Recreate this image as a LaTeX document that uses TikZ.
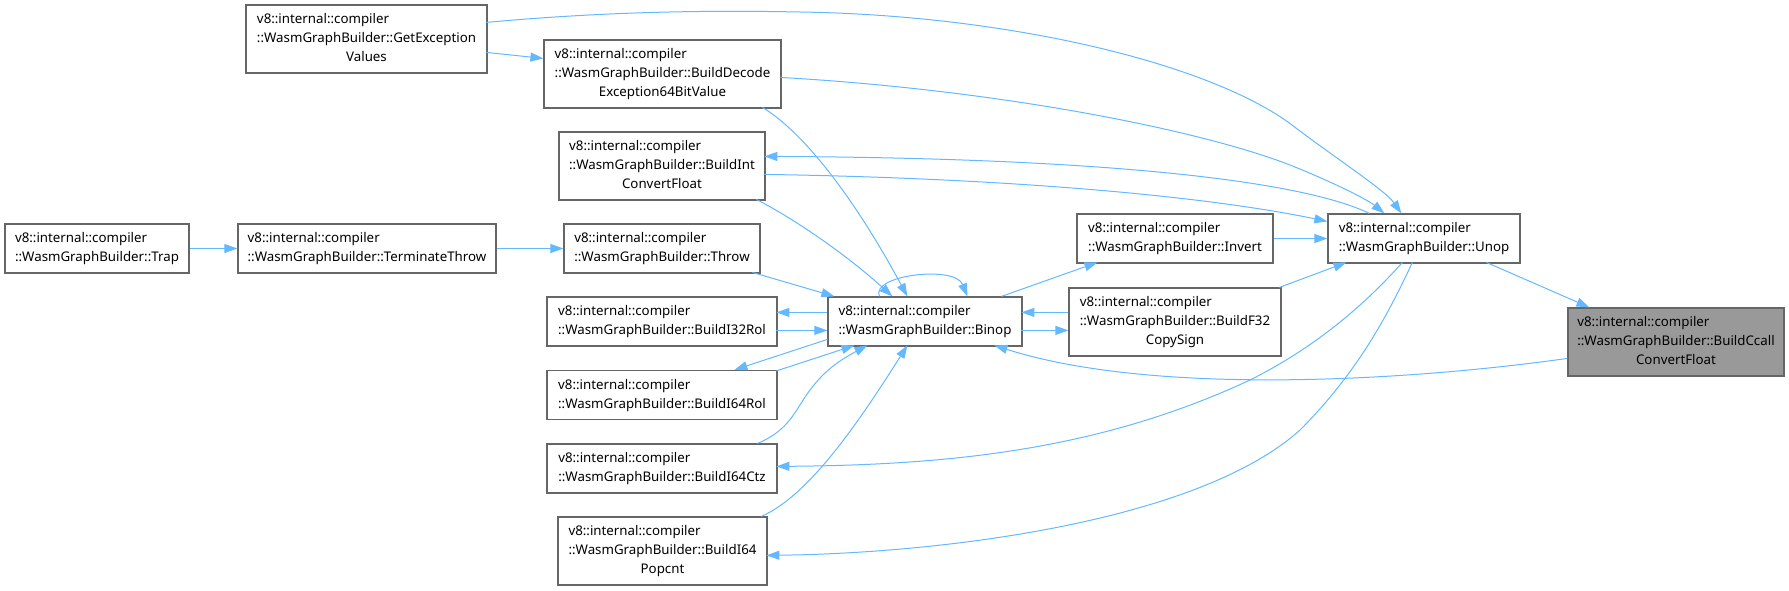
\documentclass[tikz,border=0pt]{standalone}
\usepackage{fontspec}
\setmainfont{Noto Sans}
\usetikzlibrary{arrows.meta,calc}
\definecolor{edgeblue}{HTML}{63B8FF}
\definecolor{boxborder}{HTML}{666666}
\definecolor{rootfill}{HTML}{999999}
\newcommand\twol[2]{\begin{tabular}{@{}l@{}}#1\\#2\end{tabular}}
\newcommand\threel[3]{\begin{tabular}{@{}l@{}}#1\\#2\\\multicolumn{1}{@{}c@{}}{#3}\end{tabular}}
\begin{document}
\begin{tikzpicture}[x=1pt,y=-1pt,
  box/.style={draw=boxborder, line width=1.2pt, fill=white, inner sep=0pt,
    font=\fontsize{13.3}{19}\selectfont},
  rootbox/.style={box, fill=rootfill},
  link/.style={edgeblue, line width=1pt, -{Triangle[length=13pt,width=9pt]}}]
\useasboundingbox (0,0) rectangle (1789,590);

% nodes
\node[box, minimum width=241pt, minimum height=68pt] (getex) at (366.5,39)
  {\threel{v8::internal::compiler}{::WasmGraphBuilder::GetException}{Values}};
\node[box, minimum width=237pt, minimum height=68pt] (decode) at (662.5,74)
  {\threel{v8::internal::compiler}{::WasmGraphBuilder::BuildDecode}{Exception64BitValue}};
\node[box, minimum width=206pt, minimum height=68pt] (bint) at (662,166)
  {\threel{v8::internal::compiler}{::WasmGraphBuilder::BuildInt}{ConvertFloat}};
\node[box, minimum width=184pt, minimum height=49pt] (trap) at (97,248.5)
  {\twol{v8::internal::compiler}{::WasmGraphBuilder::Trap}};
\node[box, minimum width=258pt, minimum height=49pt] (term) at (367,248.5)
  {\twol{v8::internal::compiler}{::WasmGraphBuilder::TerminateThrow}};
\node[box, minimum width=196pt, minimum height=49pt] (throw) at (662,248.5)
  {\twol{v8::internal::compiler}{::WasmGraphBuilder::Throw}};
\node[box, minimum width=230pt, minimum height=49pt] (i32rol) at (662,321.5)
  {\twol{v8::internal::compiler}{::WasmGraphBuilder::BuildI32Rol}};
\node[box, minimum width=230pt, minimum height=49pt] (i64rol) at (662,395)
  {\twol{v8::internal::compiler}{::WasmGraphBuilder::BuildI64Rol}};
\node[box, minimum width=230pt, minimum height=49pt] (ctz) at (662,468.5)
  {\twol{v8::internal::compiler}{::WasmGraphBuilder::BuildI64Ctz}};
\node[box, minimum width=209pt, minimum height=68pt] (popcnt) at (662.5,551)
  {\threel{v8::internal::compiler}{::WasmGraphBuilder::BuildI64}{Popcnt}};
\node[box, minimum width=194pt, minimum height=49pt] (binop) at (925,321.5)
  {\twol{v8::internal::compiler}{::WasmGraphBuilder::Binop}};
\node[box, minimum width=196pt, minimum height=49pt] (invert) at (1175,238.5)
  {\twol{v8::internal::compiler}{::WasmGraphBuilder::Invert}};
\node[box, minimum width=212pt, minimum height=68pt] (copysign) at (1175,322)
  {\threel{v8::internal::compiler}{::WasmGraphBuilder::BuildF32}{CopySign}};
\node[box, minimum width=192pt, minimum height=49pt] (unop) at (1424,238.5)
  {\twol{v8::internal::compiler}{::WasmGraphBuilder::Unop}};
\node[rootbox, minimum width=216pt, minimum height=68pt] (ccall) at (1676,342)
  {\threel{v8::internal::compiler}{::WasmGraphBuilder::BuildCcall}{ConvertFloat}};

% connectors
\draw[link] ($(getex.north west)+(241,18)$) .. controls (600,12) and (700,10) .. (800,12)
  .. controls (1000,15) and (1200,60) .. (1288,122)
  .. controls (1335,158) and (1385,190) .. ($(unop.north west)+(74,0)$);
\draw[link] ($(getex.north west)+(241,48)$) -- ($(decode.north west)+(0,19)$);
\draw[link] ($(decode.north west)+(237,38)$) .. controls (1000,90) and (1200,130) .. (1290,165)
  .. controls (1335,183) and (1368,200) .. ($(unop.north west)+(57,0)$);
\draw[link] ($(unop.north west)+(42,0)$) .. controls (1300,180) and (1100,158) .. ($(bint.north west)+(206,25)$);
\draw[link] ($(bint.north west)+(206,43)$) .. controls (1000,178) and (1200,195) .. ($(unop.north west)+(0,8)$);
\draw[link] ($(decode.north west)+(219,68)$) .. controls (800,130) and (850,190) .. ($(binop.north west)+(80,0)$);
\draw[link] ($(bint.north west)+(198,68)$) .. controls (800,222) and (850,258) .. ($(binop.north west)+(65,0)$);
\draw[link] ($(throw.north west)+(189,49)$) -- ($(binop.north west)+(7,0)$);
\draw[link] ($(binop.north west)+(52,0)$) .. controls (870,275) and (955,265) .. ($(binop.north west)+(140,0)$);
\draw[link] ($(binop.north west)+(174,0)$) -- ($(invert.north west)+(21,49)$);
\draw[link] (invert.east) -- (unop.west);
\draw[link] ($(copysign.north west)+(211,0)$) -- ($(unop.north west)+(19,49)$);
\draw[link] ($(copysign.north west)+(0,25)$) -- ($(binop.north west)+(194,16)$);
\draw[link] ($(binop.north west)+(194,34)$) -- ($(copysign.north west)+(0,43)$);
\draw[link] ($(binop.north west)+(0,16)$) -- ($(i32rol.north west)+(230,16)$);
\draw[link] ($(i32rol.north west)+(230,34)$) -- ($(binop.north west)+(0,34)$);
\draw[link] ($(binop.north west)+(0,43)$) -- ($(i64rol.north west)+(188,0)$);
\draw[link] ($(i64rol.north west)+(230,1)$) -- ($(binop.north west)+(27,49)$);
\draw[link] ($(ctz.north west)+(211,0)$) .. controls (790,430) and (795,410) .. (810,390)
  .. controls (825,370) and (840,360) .. ($(binop.north west)+(40,49)$);
\draw[link] ($(popcnt.north west)+(204,0)$) .. controls (810,495) and (860,420) .. ($(binop.north west)+(80,49)$);
\draw[link] ($(unop.north west)+(75,49)$) .. controls (1360,310) and (1310,350) .. (1250,380)
  .. controls (1100,450) and (950,465) .. ($(ctz.north west)+(230,23)$);
\draw[link] ($(unop.north west)+(85,49)$) .. controls (1390,310) and (1360,370) .. (1300,430)
  .. controls (1200,520) and (950,553) .. ($(popcnt.north west)+(209,39)$);
\draw[link] ($(unop.north west)+(159,49)$) -- ($(ccall.north west)+(22,0)$);
\draw[link] ($(ccall.north west)+(0,51)$) .. controls (1400,382) and (1150,395) .. ($(binop.north west)+(167,49)$);
\draw[link] (trap.east) -- (term.west);
\draw[link] (term.east) -- (throw.west);
\end{tikzpicture}
\end{document}
